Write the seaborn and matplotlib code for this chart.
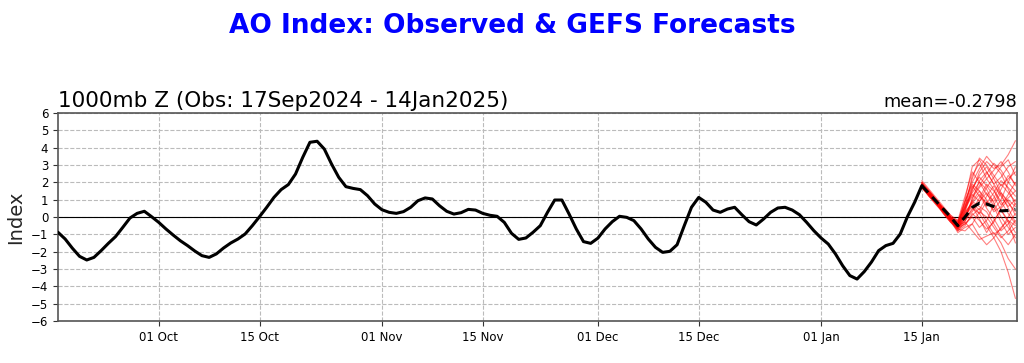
import numpy as np
import pandas as pd
import matplotlib
matplotlib.use("Agg")
import matplotlib.pyplot as plt
import matplotlib.dates as mdates
import seaborn as sns

# ==========================================
# DATA
# ==========================================
obs_start = "2024-09-17"
obs_values = [
    -0.88, -1.27, -1.80, -2.27, -2.48, -2.33, -1.94, -1.52, -1.13, -0.60,
    -0.06, 0.21, 0.33, 0.02, -0.31, -0.69, -1.04, -1.37, -1.65, -1.96,
    -2.23, -2.33, -2.13, -1.79, -1.50, -1.27, -0.98, -0.50, 0.02, 0.56,
    1.13, 1.58, 1.87, 2.48, 3.44, 4.31, 4.37, 3.92, 3.06, 2.29,
    1.75, 1.65, 1.58, 1.23, 0.75, 0.42, 0.27, 0.21, 0.31, 0.56,
    0.94, 1.10, 1.04, 0.65, 0.33, 0.17, 0.25, 0.44, 0.40, 0.21,
    0.10, 0.04, -0.31, -0.94, -1.29, -1.21, -0.88, -0.50, 0.27, 0.98,
    0.98, 0.17, -0.69, -1.42, -1.52, -1.22, -0.69, -0.27, 0.04, -0.02,
    -0.21, -0.69, -1.27, -1.75, -2.04, -1.98, -1.60, -0.50, 0.56, 1.13,
    0.85, 0.40, 0.27, 0.46, 0.56, 0.13, -0.27, -0.46, -0.12, 0.27,
    0.52, 0.56, 0.40, 0.13, -0.31, -0.79, -1.21, -1.56, -2.13, -2.81,
    -3.38, -3.58, -3.15, -2.60, -1.94, -1.65, -1.52, -0.98, 0.02, 0.85,
    1.81,
]

fc_start = "2025-01-15"
fc_mean = [1.80, 1.35, 0.90, 0.45, 0.00, -0.50, 0.00, 0.55, 0.80, 0.75, 0.60, 0.35, 0.38, 0.45]

m01 = [1.9, 1.4, 0.9, 0.4, -0.1, -0.6, 0.3, 1.5, 2.6, 3.2, 2.8, 3.0, 3.6, 4.4]
m02 = [1.8, 1.3, 0.8, 0.3, -0.2, -0.7, -0.2, 0.5, 0.2, -0.5, -1.2, -2.0, -3.2, -4.7]
m03 = [1.7, 1.3, 0.9, 0.4, 0.0, -0.4, 0.8, 2.2, 3.4, 3.0, 2.4, 1.8, 2.2, 2.6]
m04 = [2.0, 1.5, 1.0, 0.5, 0.0, -0.5, -0.3, -0.8, -1.3, -1.1, -0.9, -1.5, -2.4, -3.0]
m05 = [1.8, 1.4, 0.9, 0.4, -0.1, -0.3, 1.0, 2.9, 3.3, 2.6, 1.9, 2.3, 2.9, 3.2]
m06 = [1.9, 1.4, 0.8, 0.2, -0.3, -0.8, -0.5, 0.2, -0.2, -0.7, -0.3, 0.5, 1.0, 0.6]
m07 = [1.8, 1.2, 0.7, 0.3, -0.2, -0.9, -0.6, -0.4, -1.1, -1.6, -1.2, -0.6, -0.2, -0.5]
m08 = [1.7, 1.3, 0.9, 0.5, 0.1, -0.2, 0.5, 1.2, 1.8, 2.5, 3.1, 2.7, 2.0, 1.5]
m09 = [1.9, 1.5, 1.0, 0.5, 0.0, -0.4, 0.2, 0.9, 0.6, 0.3, -0.4, -1.1, -1.6, -1.0]
m10 = [2.1, 1.6, 1.1, 0.6, 0.1, -0.3, 0.6, 1.8, 1.2, 0.8, 1.4, 2.1, 1.7, 1.2]
m11 = [1.8, 1.3, 0.8, 0.3, -0.2, -0.6, -0.1, 0.4, 1.1, 1.9, 1.5, 0.9, 0.2, -0.4]
m12 = [1.8, 1.4, 0.9, 0.3, -0.2, -0.5, 0.7, 1.4, 2.0, 1.6, 0.8, 0.0, -0.6, -1.2]
m13 = [1.9, 1.3, 0.8, 0.2, -0.3, -0.7, 0.0, 0.9, 1.5, 1.0, 0.3, 0.6, 1.3, 2.0]
m14 = [1.7, 1.2, 0.8, 0.3, -0.1, -0.4, 0.4, 1.6, 2.4, 2.9, 2.2, 1.4, 0.8, 0.3]
m15 = [2.0, 1.5, 1.0, 0.4, -0.1, -0.6, -0.4, 0.1, 0.5, -0.3, -1.0, -0.7, 0.0, 0.8]
m16 = [1.8, 1.3, 0.8, 0.4, 0.0, -0.5, 0.3, 0.8, 0.4, 1.2, 1.8, 1.2, 0.6, 1.0]
m17 = [1.9, 1.4, 0.9, 0.4, -0.1, -0.2, 1.2, 2.6, 2.0, 1.3, 0.9, 1.6, 2.4, 1.9]
m18 = [1.8, 1.3, 0.9, 0.4, -0.1, -0.7, -0.8, -0.4, 0.3, 0.0, -0.6, -1.2, -0.8, -0.2]
m19 = [1.7, 1.2, 0.7, 0.2, -0.3, -0.6, 0.1, 0.6, -0.1, -0.9, -0.2, 0.4, -0.3, -1.5]
m20 = [1.9, 1.4, 0.9, 0.4, 0.0, -0.4, 0.9, 2.0, 2.8, 3.5, 3.0, 2.5, 1.6, 0.7]
m21 = [1.8, 1.4, 0.9, 0.4, -0.1, -0.5, 0.5, 2.4, 3.1, 2.2, 2.7, 3.2, 2.6, 1.8]
m22 = [1.9, 1.3, 0.8, 0.3, -0.2, -0.8, -0.3, 1.1, 1.7, 2.2, 1.6, 0.7, 1.1, 1.5]
m23 = [1.7, 1.3, 0.8, 0.3, -0.2, -0.6, 0.2, 0.8, 1.3, 0.5, -0.1, -0.8, -0.4, 0.2]
m24 = [2.0, 1.4, 0.9, 0.4, -0.1, -0.4, 0.6, 1.3, 0.9, 1.7, 2.3, 2.9, 3.3, 2.4]
m25 = [1.8, 1.3, 0.9, 0.4, -0.1, -0.6, -0.2, 0.3, 0.9, 1.4, 0.6, -0.3, -1.0, -0.6]
m26 = [1.9, 1.4, 0.9, 0.4, 0.0, -0.3, 0.9, 1.9, 1.5, 0.6, 1.1, 1.9, 1.4, 0.9]
m27 = [1.8, 1.3, 0.8, 0.3, -0.2, -0.7, -0.4, 0.0, -0.6, -0.2, 0.7, 1.4, 0.9, 0.1]
m28 = [1.7, 1.2, 0.8, 0.3, -0.1, -0.5, 0.4, 1.7, 2.3, 1.8, 1.2, 0.4, -0.2, -0.9]
m29 = [1.9, 1.5, 1.0, 0.5, 0.0, -0.5, 0.1, 0.7, 0.2, 0.9, 0.4, 1.0, 2.0, 2.9]
m30 = [1.8, 1.3, 0.8, 0.4, -0.1, -0.6, 0.0, 1.0, 2.1, 2.6, 1.9, 1.3, 0.5, -0.3]
members = [m01, m02, m03, m04, m05, m06, m07, m08, m09, m10,
           m11, m12, m13, m14, m15, m16, m17, m18, m19, m20,
           m21, m22, m23, m24, m25, m26, m27, m28, m29, m30]

y_ticks = [-6, -5, -4, -3, -2, -1, 0, 1, 2, 3, 4, 5, 6]

# ==========================================
# TABLES
# ==========================================
obs_df = pd.DataFrame({
    "date": pd.date_range(obs_start, periods=len(obs_values), freq="D"),
    "value": obs_values,
})
fc_dates = pd.date_range(fc_start, periods=len(fc_mean), freq="D")
fc_df = pd.concat([
    pd.DataFrame({"date": fc_dates, "value": m, "member": k})
    for k, m in enumerate(members)
], ignore_index=True)
mean_df = pd.DataFrame({"date": fc_dates, "value": fc_mean})

# ==========================================
# PLOT
# ==========================================
sns.set_style("ticks")
plt.rcParams["font.family"] = ["DejaVu Sans"]

fig = plt.figure(figsize=(10.24, 3.63), dpi=100)
ax = fig.add_axes([0.0566, 0.1157, 0.9365, 0.573])

ax.axhline(0, color="black", lw=0.8, zorder=1)
sns.lineplot(data=fc_df, x="date", y="value", units="member", estimator=None,
             color="red", alpha=0.5, lw=0.8, ax=ax, zorder=2)
sns.lineplot(data=obs_df, x="date", y="value", color="black", lw=2.2, ax=ax, zorder=3)
sns.lineplot(data=mean_df, x="date", y="value", color="black", lw=2.2,
             linestyle=(0, (3, 2)), ax=ax, zorder=4)

ax.set_xlim(pd.Timestamp("2024-09-17"), pd.Timestamp("2025-01-28 05:00"))
ax.set_ylim(-6, 6)
ax.set_yticks(y_ticks)
ax.xaxis.set_major_locator(mdates.DayLocator(bymonthday=[1, 15]))
ax.xaxis.set_major_formatter(mdates.DateFormatter("%d %b"))
ax.tick_params(axis="both", labelsize=8.5, length=3.5, colors="#333333", labelcolor="black")
ax.grid(True, linestyle="--", color="#bbbbbb", lw=0.8)
for s in ax.spines.values():
    s.set_visible(True)
    s.set_color("#555555")
    s.set_linewidth(1.2)

ax.set_xlabel("")
ax.set_ylabel("Index", fontsize=14)
ax.set_title("1000mb Z (Obs: 17Sep2024 - 14Jan2025)", loc="left", fontsize=15.5, pad=4, color="black")
ax.set_title("mean=-0.2798", loc="right", fontsize=12.8, pad=4, color="black")

fig.suptitle("AO Index: Observed & GEFS Forecasts", color="blue",
             fontweight="bold", fontsize=19, y=0.965)

fig.savefig("out.png", dpi=100)
